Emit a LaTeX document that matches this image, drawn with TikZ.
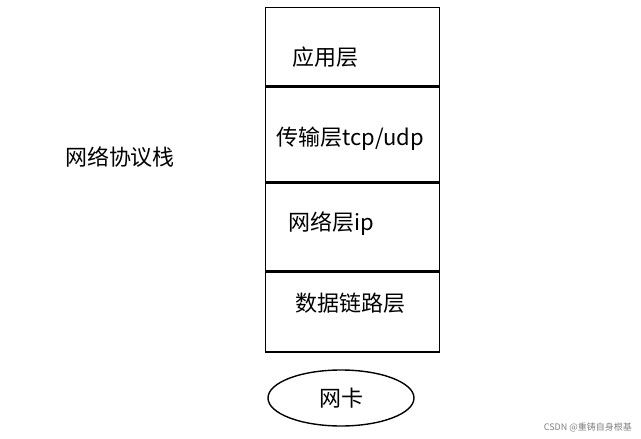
\documentclass[tikz,border=0pt]{standalone}
\usepackage{fontspec}
\setmainfont{Noto Sans CJK SC}
\usetikzlibrary{positioning,shapes.geometric}
\begin{document}
\begin{tikzpicture}[x=1pt, y=-1pt, line width=1.4pt, node distance=0pt,
  big/.style={font=\fontsize{22}{26}\selectfont},
  layer/.style={draw, minimum width=174pt, inner sep=0pt}]

  \useasboundingbox (0,0) rectangle (641,439);
  \node[layer, minimum height=78pt, anchor=north west] (app) at (265, 7) {};
  \node[layer, minimum height=95pt, below=of app] (trans) {};
  \node[layer, minimum height=87pt, below=of trans] (net) {};
  \node[layer, minimum height=80pt, below=of net] (link) {};
  \node[big] (applabel) at (325, 57) {应用层};
  \node[big] (translabel) at (350, 139) {传输层tcp/udp};
  \node[big] (netlabel) at (331, 224) {网络层ip};
  \node[big] (linklabel) at (350, 303) {数据链路层};
  \node[draw, ellipse, minimum width=146pt, minimum height=56pt, big] (nic) at (341, 398) {网卡};
  \node[big] (stack) at (120, 157) {网络协议栈};
  %watermark
  \node[text=gray, font=\fontsize{9}{11}\selectfont, anchor=east] (mark) at (636, 427) {CSDN @重铸自身根基};
\end{tikzpicture}
\end{document}
